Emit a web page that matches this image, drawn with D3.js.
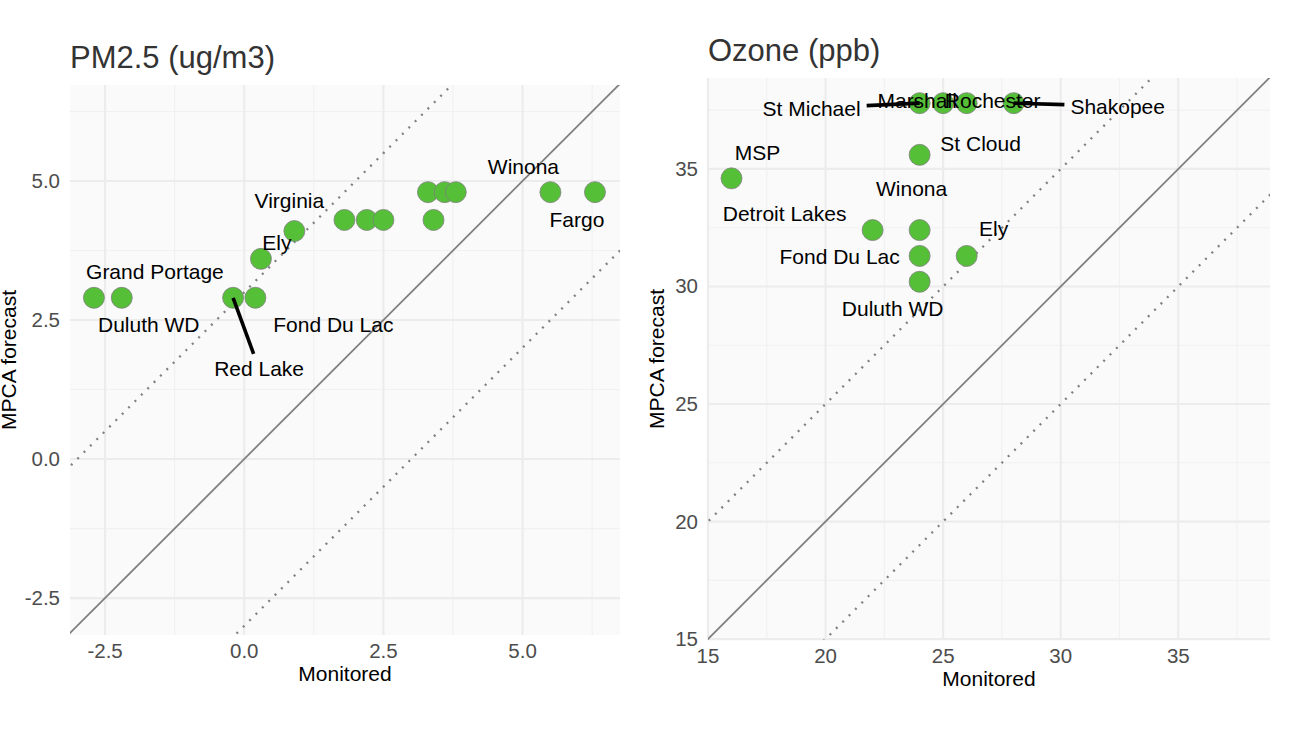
<!DOCTYPE html>
<html>
<head>
<meta charset="utf-8">
<script src="https://cdn.jsdelivr.net/npm/d3@7"></script>
<style>
  body { margin: 0; background: #fff; }
  text { font-family: "Liberation Sans", Arial, sans-serif; }
</style>
</head>
<body>
<svg id="chart" width="1300" height="730"></svg>
<script>
// PM2.5 panel data
const pmSites = ["Grand Portage", "Duluth WD", "Red Lake", "Fond Du Lac", "Ely", "Virginia",
                 "", "", "", "", "", "", "", "Winona", "Fargo"];
const pmMonitored = [-2.7, -2.2, -0.2, 0.2, 0.3, 0.9, 1.8, 2.2, 2.5, 3.4, 3.3, 3.6, 3.8, 5.5, 6.3];
const pmForecast = [2.9, 2.9, 2.9, 2.9, 3.6, 4.1, 4.3, 4.3, 4.3, 4.3, 4.8, 4.8, 4.8, 4.8, 4.8];
const pmTicks = [-2.5, 0, 2.5, 5];

// Ozone panel data
const ozSites = ["MSP", "St Michael", "Marshall", "Rochester", "Shakopee", "St Cloud",
                 "Detroit Lakes", "Winona", "Fond Du Lac", "Ely", "Duluth WD"];
const ozMonitored = [16, 24, 25, 26, 28, 24, 22, 24, 24, 26, 24];
const ozForecast = [34.6, 37.8, 37.8, 37.8, 37.8, 35.6, 32.4, 32.4, 31.3, 31.3, 30.2];
const ozTicks = [15, 20, 25, 30, 35];

// repelled label placement (pixel offsets from each point)
const pmLabelShift = [[61, -26], [27, 27], [26, 71], [78, 27], [16, -16], [-5, -31],
                      [0, 0], [0, 0], [0, 0], [0, 0], [0, 0], [0, 0], [0, 0], [-27, -26], [-18, 27]];
const ozLabelShift = [[26, -26], [-108, 5], [-26, -3], [26, -3], [104, 3], [61, -11],
                      [-88, -17], [-8, -42], [-80, 1], [27, -27], [-27, 27]];

const svg = d3.select("#chart");

function drawPanel(p) {
  const x = d3.scaleLinear().domain(p.xDomain).range([p.left, p.right]);
  const y = d3.scaleLinear().domain(p.yDomain).range([p.bottom, p.top]);
  const g = svg.append("g");

  // panel background + grid
  g.append("rect")
    .attr("x", p.left).attr("y", p.top)
    .attr("width", p.right - p.left).attr("height", p.bottom - p.top)
    .attr("fill", "#fafafa");

  const step = p.ticks[1] - p.ticks[0];
  const minor = d3.range(p.ticks[0] - step / 2, p.xDomain[1], step)
    .filter(v => v > p.xDomain[0]);
  const minorY = d3.range(p.ticks[0] - step / 2, p.yDomain[1], step)
    .filter(v => v > p.yDomain[0]);

  g.selectAll(".mx").data(minor).enter().append("line")
    .attr("x1", d => x(d)).attr("x2", d => x(d))
    .attr("y1", p.top).attr("y2", p.bottom)
    .attr("stroke", "#f1f1f1").attr("stroke-width", 1.2);
  g.selectAll(".my").data(minorY).enter().append("line")
    .attr("y1", d => y(d)).attr("y2", d => y(d))
    .attr("x1", p.left).attr("x2", p.right)
    .attr("stroke", "#f1f1f1").attr("stroke-width", 1.2);
  g.selectAll(".Mx").data(p.ticks).enter().append("line")
    .attr("x1", d => x(d)).attr("x2", d => x(d))
    .attr("y1", p.top).attr("y2", p.bottom)
    .attr("stroke", "#ececec").attr("stroke-width", 2.2);
  g.selectAll(".My").data(p.ticks).enter().append("line")
    .attr("y1", d => y(d)).attr("y2", d => y(d))
    .attr("x1", p.left).attr("x2", p.right)
    .attr("stroke", "#ececec").attr("stroke-width", 2.2);

  // tick labels (plain hyphen for negatives, like the source)
  const fmt = d => p.fmt(d).replace("\u2212", "-");
  g.selectAll(".tx").data(p.ticks).enter().append("text")
    .attr("x", d => x(d)).attr("y", p.bottom + 23)
    .attr("text-anchor", "middle")
    .attr("font-size", 20.5).attr("fill", "#4d4d4d")
    .text(fmt);
  g.selectAll(".ty").data(p.ticks).enter().append("text")
    .attr("x", p.left - 10).attr("y", d => y(d) + 7)
    .attr("text-anchor", "end")
    .attr("font-size", 20.5).attr("fill", "#4d4d4d")
    .text(fmt);

  // reference lines y = x and y = x +/- band
  const clipId = "clip" + p.id;
  svg.append("clipPath").attr("id", clipId).append("rect")
    .attr("x", p.left).attr("y", p.top)
    .attr("width", p.right - p.left).attr("height", p.bottom - p.top);
  const lo = p.xDomain[0] - 20, hi = p.xDomain[1] + 20;
  const refs = g.append("g").attr("clip-path", `url(#${clipId})`);
  [0, p.band, -p.band].forEach(off => {
    refs.append("line")
      .attr("x1", x(lo)).attr("y1", y(lo + off))
      .attr("x2", x(hi)).attr("y2", y(hi + off))
      .attr("stroke", "#808080")
      .attr("stroke-width", off === 0 ? 1.8 : 2.3)
      .attr("stroke-dasharray", off === 0 ? null : "2 7");
  });

  // points
  const pts = p.sites.map((s, i) => ({
    site: s, cx: x(p.xs[i]), cy: y(p.ys[i]), shift: p.shift[i]
  }));
  g.selectAll(".pt").data(pts).enter().append("circle")
    .attr("cx", d => d.cx).attr("cy", d => d.cy).attr("r", 10.5)
    .attr("fill", "#55bf38").attr("stroke", "#7f7f7f").attr("stroke-width", 0.8);

  // labels with leader segments when pushed far away
  const lab = pts.filter(d => d.site !== "");
  const segG = g.append("g");
  const texts = g.selectAll(".lab").data(lab).enter().append("text")
    .attr("x", d => d.cx + d.shift[0]).attr("y", d => d.cy + d.shift[1] + 7.5)
    .attr("text-anchor", "middle")
    .attr("font-size", 21).attr("fill", "#000")
    .text(d => d.site);
  texts.each(function(d) {
    const b = this.getBBox();
    const lx = d.cx + d.shift[0], ly = d.cy + d.shift[1];
    const hw = b.width / 2 + 6, hh = 10 + 5;
    const dx = d.cx - lx, dy = d.cy - ly;
    const gapX = Math.max(0, Math.abs(dx) - b.width / 2);
    const gapY = Math.max(0, Math.abs(dy) - 10);
    if (Math.hypot(gapX, gapY) < 40) return;
    const s = Math.min(dx === 0 ? Infinity : hw / Math.abs(dx), dy === 0 ? Infinity : hh / Math.abs(dy));
    segG.append("line")
      .attr("x1", d.cx).attr("y1", d.cy)
      .attr("x2", lx + s * dx).attr("y2", ly + s * dy)
      .attr("stroke", "#000").attr("stroke-width", 3.6);
  });

  // titles
  svg.append("text")
    .attr("x", p.left).attr("y", p.titleY)
    .attr("font-size", 31).attr("fill", "#333")
    .text(p.title);
  svg.append("text")
    .attr("x", (p.left + p.right) / 2).attr("y", p.bottom + 46)
    .attr("text-anchor", "middle")
    .attr("font-size", 21).attr("fill", "#000")
    .text("Monitored");
  svg.append("text")
    .attr("transform", `translate(${p.yTitleX},${(p.top + p.bottom) / 2}) rotate(-90)`)
    .attr("text-anchor", "middle")
    .attr("font-size", 21).attr("fill", "#000")
    .text("MPCA forecast");
}

drawPanel({
  id: "pm", title: "PM2.5 (ug/m3)", titleY: 68,
  left: 70, right: 620, top: 85, bottom: 635,
  xDomain: [-3.13, 6.75], yDomain: [-3.165, 6.727],
  ticks: pmTicks, fmt: d3.format(".1f"), band: 3,
  sites: pmSites, xs: pmMonitored, ys: pmForecast, shift: pmLabelShift,
  yTitleX: 16
});

drawPanel({
  id: "oz", title: "Ozone (ppb)", titleY: 61,
  left: 708, right: 1270, top: 78, bottom: 640,
  xDomain: [15, 38.9], yDomain: [14.96, 38.87],
  ticks: ozTicks, fmt: d3.format("d"), band: 5,
  sites: ozSites, xs: ozMonitored, ys: ozForecast, shift: ozLabelShift,
  yTitleX: 664
});
</script>
</body>
</html>
